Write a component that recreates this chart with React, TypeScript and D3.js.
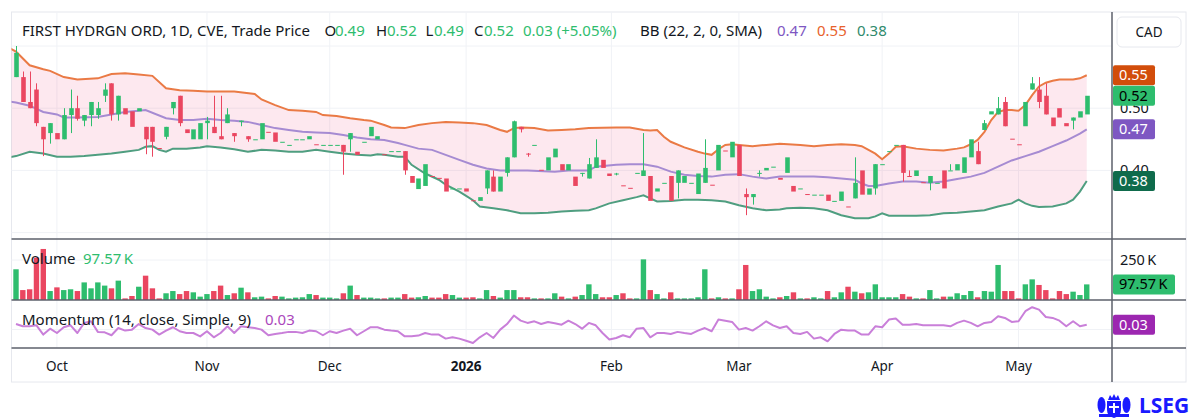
import { useEffect, useRef } from "react";
import * as d3 from "d3";

// [open, high, low, close], one per trading day
type Candle = [number, number, number, number];

const candles: Candle[] = [
  [0.55, 0.6, 0.55, 0.589], [0.55, 0.559, 0.51, 0.51], [0.51, 0.559, 0.5, 0.5], [0.53, 0.54, 0.471, 0.476],
  [0.47, 0.47, 0.423, 0.45], [0.46, 0.476, 0.443, 0.476], [0.46, 0.46, 0.45, 0.45], [0.45, 0.5, 0.45, 0.489],
  [0.489, 0.53, 0.46, 0.5], [0.5, 0.52, 0.48, 0.483], [0.48, 0.489, 0.471, 0.489], [0.489, 0.51, 0.471, 0.51],
  [0.489, 0.51, 0.483, 0.5], [0.52, 0.54, 0.51, 0.53], [0.54, 0.54, 0.48, 0.49], [0.49, 0.52, 0.48, 0.52],
  [0.5, 0.5, 0.49, 0.49], [0.495, 0.495, 0.47, 0.47], [0.495, 0.5, 0.495, 0.5], [0.47, 0.47, 0.426, 0.45],
  [0.47, 0.47, 0.422, 0.446], [0.436, 0.436, 0.435, 0.435], [0.454, 0.47, 0.45, 0.47], [0.5, 0.51, 0.49, 0.51],
  [0.52, 0.52, 0.471, 0.476], [0.466, 0.466, 0.46, 0.46], [0.45, 0.466, 0.45, 0.466], [0.45, 0.476, 0.45, 0.476],
  [0.476, 0.486, 0.45, 0.48], [0.47, 0.52, 0.46, 0.46], [0.455, 0.52, 0.45, 0.45], [0.476, 0.5, 0.476, 0.49],
  [0.46, 0.46, 0.446, 0.455], [0.478, 0.48, 0.471, 0.48], [0.455, 0.455, 0.446, 0.45], [0.45, 0.45, 0.45, 0.45],
  [0.45, 0.476, 0.45, 0.476], [0.462, 0.462, 0.461, 0.461], [0.461, 0.461, 0.446, 0.446], [0.446, 0.446, 0.446, 0.446],
  [0.441, 0.441, 0.441, 0.441], [0.45, 0.45, 0.45, 0.45], [0.45, 0.45, 0.45, 0.45], [0.45, 0.455, 0.45, 0.455],
  [0.442, 0.442, 0.441, 0.441], [0.441, 0.441, 0.441, 0.441], [0.441, 0.441, 0.441, 0.441], [0.441, 0.441, 0.441, 0.441],
  [0.441, 0.441, 0.393, 0.43], [0.45, 0.46, 0.43, 0.46], [0.43, 0.43, 0.425, 0.425], [0.446, 0.446, 0.446, 0.446],
  [0.455, 0.47, 0.455, 0.47], [0.45, 0.455, 0.45, 0.455], [0.426, 0.426, 0.425, 0.425], [0.431, 0.431, 0.431, 0.431],
  [0.431, 0.431, 0.431, 0.431], [0.431, 0.431, 0.393, 0.4], [0.391, 0.391, 0.38, 0.38], [0.37, 0.387, 0.37, 0.387],
  [0.375, 0.41, 0.375, 0.41], [0.391, 0.391, 0.39, 0.39], [0.388, 0.388, 0.387, 0.387], [0.387, 0.387, 0.366, 0.366],
  [0.371, 0.371, 0.371, 0.371], [0.371, 0.371, 0.371, 0.371], [0.371, 0.371, 0.366, 0.366], [0.352, 0.352, 0.351, 0.351],
  [0.351, 0.357, 0.351, 0.357], [0.371, 0.4, 0.362, 0.4], [0.39, 0.4, 0.366, 0.366], [0.366, 0.39, 0.366, 0.39],
  [0.396, 0.421, 0.39, 0.421], [0.421, 0.48, 0.421, 0.479], [0.47, 0.47, 0.461, 0.466], [0.427, 0.428, 0.422, 0.426],
  [0.441, 0.441, 0.441, 0.441], [0.401, 0.401, 0.4, 0.4], [0.4, 0.421, 0.4, 0.421], [0.421, 0.435, 0.421, 0.435],
  [0.41, 0.41, 0.4, 0.4], [0.4, 0.41, 0.4, 0.41], [0.39, 0.39, 0.375, 0.375], [0.395, 0.396, 0.39, 0.396],
  [0.387, 0.42, 0.387, 0.41], [0.404, 0.45, 0.404, 0.421], [0.417, 0.417, 0.404, 0.404], [0.395, 0.395, 0.391, 0.391],
  [0.395, 0.396, 0.392, 0.395], [0.376, 0.376, 0.375, 0.375], [0.372, 0.372, 0.371, 0.371], [0.396, 0.396, 0.396, 0.396],
  [0.391, 0.46, 0.391, 0.4], [0.391, 0.391, 0.351, 0.351], [0.366, 0.371, 0.366, 0.371], [0.38, 0.38, 0.38, 0.38],
  [0.391, 0.391, 0.351, 0.351], [0.38, 0.4, 0.355, 0.4], [0.38, 0.391, 0.38, 0.391], [0.38, 0.38, 0.38, 0.38],
  [0.362, 0.395, 0.362, 0.395], [0.38, 0.45, 0.38, 0.404], [0.377, 0.377, 0.376, 0.376], [0.4, 0.441, 0.4, 0.441],
  [0.432, 0.432, 0.431, 0.431], [0.421, 0.446, 0.421, 0.446], [0.441, 0.441, 0.391, 0.391], [0.362, 0.371, 0.328, 0.357],
  [0.357, 0.362, 0.345, 0.362], [0.396, 0.4, 0.39, 0.396], [0.4, 0.404, 0.4, 0.404], [0.406, 0.406, 0.406, 0.406],
  [0.388, 0.388, 0.385, 0.385], [0.396, 0.421, 0.396, 0.421], [0.375, 0.375, 0.366, 0.366], [0.371, 0.371, 0.371, 0.371],
  [0.362, 0.362, 0.361, 0.361], [0.361, 0.361, 0.361, 0.361], [0.361, 0.361, 0.361, 0.361], [0.361, 0.361, 0.351, 0.351],
  [0.351, 0.351, 0.351, 0.351], [0.351, 0.366, 0.351, 0.366], [0.342, 0.342, 0.341, 0.341], [0.355, 0.421, 0.355, 0.38],
  [0.4, 0.4, 0.361, 0.361], [0.361, 0.371, 0.361, 0.371], [0.371, 0.41, 0.361, 0.41], [0.41, 0.41, 0.41, 0.41],
  [0.431, 0.431, 0.431, 0.431], [0.441, 0.441, 0.441, 0.441], [0.441, 0.441, 0.382, 0.396], [0.391, 0.4, 0.39, 0.39],
  [0.391, 0.4, 0.391, 0.4], [0.381, 0.381, 0.38, 0.38], [0.38, 0.391, 0.368, 0.391], [0.38, 0.38, 0.38, 0.38],
  [0.4, 0.4, 0.371, 0.371], [0.4, 0.41, 0.4, 0.4], [0.4, 0.41, 0.4, 0.41], [0.396, 0.421, 0.396, 0.421],
  [0.421, 0.45, 0.421, 0.45], [0.431, 0.446, 0.41, 0.41], [0.465, 0.481, 0.465, 0.476], [0.49, 0.495, 0.49, 0.495],
  [0.49, 0.518, 0.49, 0.5], [0.51, 0.518, 0.471, 0.471], [0.451, 0.451, 0.45, 0.45], [0.442, 0.442, 0.441, 0.441],
  [0.471, 0.51, 0.471, 0.51], [0.53, 0.55, 0.53, 0.54], [0.53, 0.55, 0.5, 0.51], [0.52, 0.54, 0.49, 0.49],
  [0.485, 0.485, 0.471, 0.471], [0.5, 0.5, 0.485, 0.485], [0.476, 0.476, 0.471, 0.471], [0.48, 0.485, 0.466, 0.485],
  [0.485, 0.495, 0.485, 0.495], [0.49, 0.52, 0.49, 0.52],
];

// thousands of shares
const volumeK = [
  192, 62, 67, 265, 319, 56, 79, 62, 67, 56, 110, 73, 110, 90, 73, 121, 10, 25, 83, 152,
  73, 10, 42, 56, 37, 56, 48, 21, 37, 56, 90, 31, 42, 77, 48, 17, 21, 10, 25, 21,
  10, 15, 17, 37, 31, 15, 15, 10, 42, 90, 31, 15, 15, 10, 10, 15, 15, 37, 15, 17,
  25, 15, 15, 37, 31, 15, 15, 17, 10, 62, 25, 15, 62, 62, 17, 17, 10, 10, 10, 42,
  21, 10, 21, 31, 98, 37, 17, 17, 31, 42, 10, 10, 254, 62, 37, 10, 48, 10, 10, 10,
  17, 192, 10, 17, 10, 10, 67, 219, 56, 67, 21, 10, 17, 25, 48, 10, 10, 17, 10, 56,
  17, 48, 83, 52, 42, 48, 98, 17, 17, 17, 37, 21, 10, 10, 62, 10, 21, 21, 42, 31,
  56, 17, 56, 52, 219, 56, 56, 10, 98, 129, 94, 62, 10, 56, 37, 52, 31, 97.57,
];

const momentum = [
  0.034, 0.02, 0.02, 0.026, -0.032, 0.005, -0.022, 0.014, 0.026, -0.022, 0.041, 0.051, -0.015, -0.018, -0.036, 0.009,
  -0.007, -0.001, 0.034, 0.009, -0.001, -0.032, -0.007, 0.014, -0.011, -0.022, -0.022, -0.043, -0.011, -0.049, -0.022, 0.02,
  -0.022, 0.02, 0.014, 0.009, -0.001, -0.036, -0.028, -0.022, -0.015, -0.015, -0.022, -0.007, -0.011, -0.036, -0.011, -0.022,
  -0.007, 0.005, -0.036, -0.011, 0.014, 0.014, -0.001, -0.007, -0.011, -0.043, -0.043, -0.038, -0.022, -0.032, -0.032, -0.057,
  -0.049, -0.057, -0.07, -0.084, -0.049, -0.022, -0.053, -0.001, 0.034, 0.087, 0.055, 0.041, 0.051, 0.034, 0.047, 0.039,
  0.03, 0.055, 0.034, 0.005, 0.041, 0.026, -0.022, -0.063, -0.053, -0.036, -0.049, 0.005, 0.009, -0.049, -0.022, -0.022,
  -0.028, -0.015, -0.022, -0.028, -0.007, 0.009, -0.011, 0.062, 0.055, 0.047, -0.001, 0.009, -0.007, 0.02, 0.051, 0.026,
  0.009, 0.02, -0.022, -0.028, -0.015, -0.057, -0.049, -0.074, -0.028, -0.001, -0.007, -0.007, -0.032, -0.032, 0.02, 0.014,
  0.062, 0.068, 0.03, 0.03, 0.034, 0.026, 0.026, 0.026, 0.026, 0.02, 0.041, 0.055, 0.041, 0.02, 0.041, 0.047,
  0.082, 0.072, 0.047, 0.051, 0.114, 0.139, 0.124, 0.078, 0.072, 0.055, 0.02, 0.051, 0.02, 0.03,
];

// Bollinger bands as [bar index, price]
const bbUpper: [number, number][] = [
  [-1, 0.597], [0, 0.591], [2, 0.569], [4, 0.5625], [5, 0.56], [7, 0.55], [9, 0.546], [12, 0.548], [14, 0.555],
  [16, 0.556], [18, 0.554], [20, 0.552], [22, 0.532], [24, 0.529], [26, 0.528], [28, 0.527], [32, 0.527],
  [35, 0.523], [36, 0.514], [38, 0.505], [40, 0.497], [42, 0.496], [44, 0.494], [45, 0.489], [47, 0.4875],
  [49, 0.484], [51, 0.481], [52, 0.48], [54, 0.473], [55, 0.469], [57, 0.468], [59, 0.473], [61, 0.476],
  [63, 0.478], [65, 0.477], [67, 0.476], [69, 0.473], [71, 0.465], [72, 0.462], [73, 0.468], [74, 0.469],
  [76, 0.468], [78, 0.464], [80, 0.465], [82, 0.466], [84, 0.468], [88, 0.469], [90, 0.469], [92, 0.465],
  [93, 0.464], [94, 0.465], [95, 0.454], [96, 0.446], [98, 0.437], [100, 0.43], [101, 0.427], [102, 0.425],
  [103, 0.434], [104, 0.441], [105, 0.442], [106, 0.441], [108, 0.439], [110, 0.441], [112, 0.443],
  [115, 0.441], [117, 0.439], [119, 0.441], [121, 0.442], [123, 0.441], [124, 0.439], [125, 0.433],
  [126, 0.427], [127, 0.418], [128, 0.427], [129, 0.438], [130, 0.439], [132, 0.435], [134, 0.433],
  [136, 0.432], [138, 0.435], [139, 0.437], [140, 0.442], [141, 0.449], [142, 0.462], [143, 0.481],
  [144, 0.494], [145, 0.497], [146, 0.497], [147, 0.496], [148, 0.505], [149, 0.521], [150, 0.535],
  [151, 0.541], [152, 0.544], [153, 0.546], [155, 0.546], [156, 0.548], [157, 0.553],
];
const bbMiddle: [number, number][] = [
  [-1, 0.511], [0, 0.509], [2, 0.504], [4, 0.494], [6, 0.49], [7, 0.485], [9, 0.485], [12, 0.486], [14, 0.49],
  [16, 0.494], [18, 0.496], [19, 0.497], [22, 0.484], [24, 0.481], [26, 0.481], [28, 0.483], [30, 0.481],
  [32, 0.48], [34, 0.478], [36, 0.473], [38, 0.468], [40, 0.465], [42, 0.462], [44, 0.461], [46, 0.46],
  [48, 0.457], [50, 0.453], [52, 0.45], [54, 0.449], [56, 0.444], [57, 0.441], [59, 0.435], [61, 0.433],
  [63, 0.425], [65, 0.417], [67, 0.409], [69, 0.403], [71, 0.4], [75, 0.4], [79, 0.398], [81, 0.4],
  [84, 0.4], [85, 0.406], [88, 0.409], [90, 0.41], [92, 0.41], [94, 0.406], [96, 0.398], [98, 0.393],
  [100, 0.391], [102, 0.39], [104, 0.393], [106, 0.394], [108, 0.39], [110, 0.387], [112, 0.39], [117, 0.39],
  [119, 0.389], [121, 0.387], [123, 0.385], [124, 0.379], [125, 0.375], [126, 0.375], [127, 0.377],
  [128, 0.379], [130, 0.382], [132, 0.382], [134, 0.38], [136, 0.382], [138, 0.386], [140, 0.39],
  [142, 0.396], [144, 0.406], [146, 0.416], [148, 0.423], [150, 0.43], [152, 0.439], [154, 0.448],
  [156, 0.459], [157, 0.466],
];
const bbLower: [number, number][] = [
  [-1, 0.421], [0, 0.423], [2, 0.43], [4, 0.427], [6, 0.422], [8, 0.422], [10, 0.423], [12, 0.425], [14, 0.427],
  [16, 0.43], [18, 0.433], [19, 0.438], [20, 0.439], [21, 0.433], [22, 0.43], [23, 0.435], [25, 0.435],
  [27, 0.437], [28, 0.439], [30, 0.437], [32, 0.434], [34, 0.43], [36, 0.433], [38, 0.432], [40, 0.43],
  [42, 0.43], [44, 0.433], [46, 0.43], [48, 0.427], [50, 0.425], [52, 0.424], [53, 0.426], [54, 0.425],
  [56, 0.422], [57, 0.422], [58, 0.409], [60, 0.395], [62, 0.385], [63, 0.377], [65, 0.366], [66, 0.359],
  [67, 0.352], [68, 0.342], [70, 0.339], [72, 0.336], [74, 0.331], [76, 0.331], [78, 0.332], [80, 0.334],
  [82, 0.335], [84, 0.336], [85, 0.339], [87, 0.347], [89, 0.352], [91, 0.357], [92, 0.36], [93, 0.355],
  [94, 0.35], [96, 0.351], [98, 0.353], [100, 0.353], [102, 0.352], [104, 0.35], [106, 0.344], [108, 0.339],
  [110, 0.336], [112, 0.337], [113, 0.339], [115, 0.34], [117, 0.339], [119, 0.336], [121, 0.328],
  [123, 0.323], [125, 0.323], [126, 0.326], [127, 0.331], [128, 0.327], [130, 0.327], [132, 0.327],
  [134, 0.328], [136, 0.331], [138, 0.332], [140, 0.334], [142, 0.336], [144, 0.342], [146, 0.347],
  [147, 0.353], [148, 0.347], [149, 0.343], [150, 0.341], [152, 0.342], [154, 0.347], [155, 0.353],
  [156, 0.366], [157, 0.383],
];

const monthTicks = [
  { i: 6, label: "Oct" },
  { i: 28, label: "Nov" },
  { i: 46, label: "Dec" },
  { i: 66, label: "2026" },
  { i: 87.3, label: "Feb" },
  { i: 106, label: "Mar" },
  { i: 127, label: "Apr" },
  { i: 147, label: "May" },
];
const priceGrid = [0.3, 0.4, 0.5, 0.6];
const priceTickLabels = [0.5, 0.4];
const volumeGrid = [250];
const momentumGrid = [0];

const GREEN = "#2ebd6e";
const RED = "#ea4660";
const FONT = "'Noto Sans', sans-serif";
const TEXT = "#131722";

export default function App() {
  const svgRef = useRef<SVGSVGElement>(null);

  useEffect(() => {
    if (!svgRef.current) return;
    const svg = d3.select(svgRef.current);
    svg.selectAll("*").remove();

    const left = 11.5;
    const right = 1112;
    const top = 12;
    const mainBottom = 239;
    const volBottom = 300;
    const momBottom = 348;
    const bottom = 382;
    const outerRight = 1186;

    const n = candles.length;
    const x = d3.scaleLinear().domain([0, n - 1]).range([16, 16 + 6.82 * (n - 1)]);
    const y = d3.scaleLinear().domain([0.3, 0.6]).range([232.6, 46]);
    const yVol = d3.scaleLinear().domain([0, 250]).range([volBottom, 260]);
    const yMom = d3.scaleLinear().domain([-0.1156, 0.184]).range([momBottom, volBottom]);

    svg.append("rect").attr("width", 1200).attr("height", 420).attr("fill", "#ffffff");

    const defs = svg.append("defs");
    defs.append("clipPath").attr("id", "mainClip")
      .append("rect").attr("x", left).attr("y", top).attr("width", right - left).attr("height", mainBottom - top);

    // frame
    svg.append("rect")
      .attr("x", left).attr("y", top).attr("width", outerRight - left).attr("height", bottom - top)
      .attr("fill", "none").attr("stroke", "#e6e8ee");

    // grid
    const grid = svg.append("g").attr("stroke", "#f0f2f6").attr("stroke-width", 1);
    monthTicks.forEach((t) => {
      grid.append("line").attr("x1", x(t.i)).attr("x2", x(t.i)).attr("y1", top).attr("y2", momBottom);
    });
    priceGrid.forEach((p) => {
      grid.append("line").attr("x1", left).attr("x2", right).attr("y1", y(p)).attr("y2", y(p));
    });
    volumeGrid.forEach((v) => {
      grid.append("line").attr("x1", left).attr("x2", right).attr("y1", yVol(v)).attr("y2", yVol(v));
    });
    momentumGrid.forEach((v) => {
      grid.append("line").attr("x1", left).attr("x2", right).attr("y1", yMom(v)).attr("y2", yMom(v));
    });

    // Bollinger bands
    const main = svg.append("g").attr("clip-path", "url(#mainClip)");
    const bandLine = d3.line<[number, number]>().x((d) => x(d[0])).y((d) => y(d[1]));
    const ring = bbUpper.concat(bbLower.slice().reverse());
    main.append("path").attr("d", bandLine(ring) + "Z").attr("fill", "rgba(233, 30, 99, 0.1)");
    main.append("path").datum(bbUpper).attr("d", bandLine).attr("fill", "none").attr("stroke", "#ea7a45").attr("stroke-width", 2);
    main.append("path").datum(bbMiddle).attr("d", bandLine).attr("fill", "none").attr("stroke", "#a68bd2").attr("stroke-width", 2);
    main.append("path").datum(bbLower).attr("d", bandLine).attr("fill", "none").attr("stroke", "#4f9e80").attr("stroke-width", 2);

    // candles
    const bodyW = 4.6;
    candles.forEach(([o, h, l, c], i) => {
      const col = c >= o ? GREEN : RED;
      const cx = Math.round(x(i)) + 0.5;
      if (h > Math.max(o, c) || l < Math.min(o, c)) {
        main.append("line").attr("x1", cx).attr("x2", cx).attr("y1", y(h)).attr("y2", y(l)).attr("stroke", col).attr("stroke-width", 1);
      }
      const yt = y(Math.max(o, c));
      const hgt = Math.max(1, Math.abs(y(o) - y(c)));
      main.append("rect").attr("x", cx - bodyW / 2).attr("y", yt).attr("width", bodyW).attr("height", hgt).attr("fill", col);
    });

    // volume
    volumeK.forEach((v, i) => {
      const [o, , , c] = candles[i];
      svg.append("rect")
        .attr("x", x(i) - 2.7).attr("y", yVol(v)).attr("width", 5.4).attr("height", volBottom - yVol(v))
        .attr("fill", c >= o ? GREEN : RED);
    });

    // momentum
    const momLine = d3.line<number>().x((_, i) => x(i)).y((d) => yMom(d));
    svg.append("path").datum(momentum).attr("d", momLine).attr("fill", "none")
      .attr("stroke", "#c97fd9").attr("stroke-width", 2).attr("stroke-linejoin", "round");

    // pane separators
    const sep = svg.append("g").attr("stroke", "#5d606b").attr("stroke-width", 1.5);
    [mainBottom, volBottom, momBottom].forEach((yy) => {
      sep.append("line").attr("x1", left).attr("x2", outerRight).attr("y1", yy).attr("y2", yy);
    });
    sep.append("line").attr("x1", right).attr("x2", right).attr("y1", top).attr("y2", bottom);

    // x axis labels
    monthTicks.forEach((t) => {
      svg.append("text").attr("x", x(t.i)).attr("y", 371).attr("text-anchor", "middle")
        .attr("font-family", FONT).attr("font-size", 13.5).attr("fill", TEXT)
        .attr("font-weight", t.label === "2026" ? 700 : 400).text(t.label);
    });

    // header legend
    const txt = (xx: number, yy: number, s: string, fill: string, size = 15) =>
      svg.append("text").attr("x", xx).attr("y", yy).attr("font-family", FONT).attr("font-size", size).attr("fill", fill).text(s);
    txt(22, 36, "FIRST HYDRGN ORD, 1D, CVE, Trade Price", TEXT);
    const last = candles[n - 1];
    const prev = candles[n - 2];
    const change = last[3] - prev[3];
    txt(324.5, 36, "O", TEXT);
    txt(335, 36, last[0].toFixed(2), GREEN);
    txt(376, 36, "H", TEXT);
    txt(387, 36, last[1].toFixed(2), GREEN);
    txt(425.5, 36, "L", TEXT);
    txt(434, 36, last[2].toFixed(2), GREEN);
    txt(474, 36, "C", TEXT);
    txt(484, 36, last[3].toFixed(2), GREEN);
    txt(523, 36, `${change.toFixed(2)} (+5.05%)`, GREEN);
    txt(640, 36, "BB (22, 2, 0, SMA)", TEXT);
    txt(777, 36, bbMiddle[bbMiddle.length - 1][1].toFixed(2), "#7e57c2");
    txt(817, 36, bbUpper[bbUpper.length - 1][1].toFixed(2), "#e8612c");
    txt(857, 36, bbLower[bbLower.length - 1][1].toFixed(2), "#2f8a6c");

    txt(22, 264, "Volume", TEXT);
    txt(83, 264, `${volumeK[n - 1].toFixed(2)}\u202FK`, GREEN);
    txt(22, 325, "Momentum (14, close, Simple, 9)", TEXT);
    txt(265, 325, momentum[n - 1].toFixed(2), "#ab47bc");

    // right axis
    svg.append("rect").attr("x", 1117).attr("y", 17).attr("width", 64).attr("height", 30).attr("rx", 5)
      .attr("fill", "#ffffff").attr("stroke", "#e6e8ee");
    svg.append("text").attr("x", 1149).attr("y", 37).attr("text-anchor", "middle")
      .attr("font-family", FONT).attr("font-size", 13.5).attr("fill", TEXT).text("CAD");

    // tick labels partly hidden behind the value badges, as in TradingView
    priceTickLabels.forEach((p) => txt(1120, y(p) + 5, p.toFixed(2), TEXT, 14.5));
    volumeGrid.forEach((v) => txt(1120, yVol(v) + 5, `${v}\u202FK`, TEXT, 14.5));

    const badge = (yy: number, s: string, fill: string, color: string, w = 42) => {
      svg.append("rect").attr("x", 1113).attr("y", yy - 10).attr("width", w).attr("height", 20).attr("rx", 2).attr("fill", fill);
      txt(1119, yy + 5, s, color, 14.5);
    };
    const up = bbUpper[bbUpper.length - 1][1];
    const mid = bbMiddle[bbMiddle.length - 1][1];
    const low = bbLower[bbLower.length - 1][1];
    badge(y(up), up.toFixed(2), "#d24d0b", "#ffffff");
    badge(y(last[3]), last[3].toFixed(2), GREEN, "#000000");
    badge(y(mid), mid.toFixed(2), "#7e57c2", "#ffffff");
    badge(y(low), low.toFixed(2), "#0f6b4c", "#ffffff");
    badge(yVol(volumeK[n - 1]), `${volumeK[n - 1].toFixed(2)}\u202FK`, GREEN, "#000000", 62);
    badge(yMom(momentum[n - 1]), momentum[n - 1].toFixed(2), "#9c27b0", "#ffffff");

    // LSEG mark
    const logo = svg.append("g").attr("fill", "#1a1aff");
    logo.append("path").attr("d", "M1107,401 h14 v9 q0,6 -7,8 q-7,-2 -7,-8 Z");
    logo.append("rect").attr("x", 1113).attr("y", 403).attr("width", 2).attr("height", 10).attr("fill", "#ffffff");
    logo.append("rect").attr("x", 1109).attr("y", 406).attr("width", 10).attr("height", 2).attr("fill", "#ffffff");
    logo.append("path").attr("d", "M1108,400 l2,-5 l2,3 l2,-4 l2,4 l2,-3 l2,5 Z");
    logo.append("ellipse").attr("cx", 1101.5).attr("cy", 405).attr("rx", 4).attr("ry", 8);
    logo.append("ellipse").attr("cx", 1126.5).attr("cy", 405).attr("rx", 4).attr("ry", 8);
    logo.append("rect").attr("x", 1099).attr("y", 414).attr("width", 30).attr("height", 3);
    svg.append("text").attr("x", 1139).attr("y", 413).attr("font-family", FONT).attr("font-size", 21)
      .attr("font-weight", 700).attr("fill", "#1a1aff").text("LSEG");
  }, []);

  return (
    <svg
      ref={svgRef}
      width={1200}
      height={420}
      style={{ position: "absolute", left: 0, top: 0, display: "block" }}
    />
  );
}
